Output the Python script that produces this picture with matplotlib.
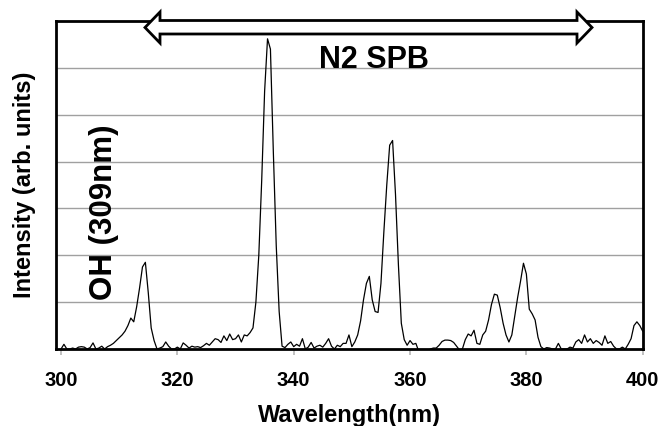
import numpy as np
import matplotlib
matplotlib.use("Agg")
import matplotlib.pyplot as plt
from matplotlib.patches import Polygon

plt.rcParams['font.family'] = ['Liberation Sans', 'DejaVu Sans']

# ---- data -------------------------------------------------------------
wl_start, wl_stop, wl_step = 300.0, 400.0, 0.5
intensity = [
    0.0, 0.1, 0.0, 0.0, 0.02, 0.0, 0.04, 0.05, 0.04, 0.0,          # 300-304.5
    0.03, 0.13, 0.0, 0.02, 0.06, 0.0, 0.05, 0.08, 0.12, 0.18,       # 305-309.5
    0.24, 0.3, 0.38, 0.5, 0.66, 0.58, 0.9, 1.3, 1.75, 1.85,         # 310-314.5
    1.2, 0.45, 0.18, 0.0, 0.02, 0.05, 0.15, 0.06, 0.0, 0.0,         # 315-319.5
    0.04, 0.0, 0.13, 0.08, 0.02, 0.06, 0.04, 0.05, 0.03, 0.07,      # 320-324.5
    0.12, 0.08, 0.15, 0.22, 0.2, 0.14, 0.28, 0.18, 0.32, 0.2,       # 325-329.5
    0.22, 0.3, 0.15, 0.3, 0.28, 0.35, 0.45, 1.0, 2.0, 3.6,          # 330-334.5
    5.5, 6.62, 6.4, 4.2, 2.2, 0.8, 0.06, 0.03, 0.1, 0.15,           # 335-339.5
    0.05, 0.1, 0.06, 0.22, 0.0, 0.04, 0.14, 0.02, 0.06, 0.08,       # 340-344.5
    0.04, 0.12, 0.22, 0.06, 0.0, 0.08, 0.05, 0.12, 0.12, 0.3,       # 345-349.5
    0.05, 0.15, 0.3, 0.6, 1.05, 1.4, 1.55, 1.05, 0.8, 0.78,         # 350-354.5
    1.4, 2.5, 3.5, 4.35, 4.45, 3.3, 1.8, 0.55, 0.2, 0.08,           # 355-359.5
    0.18, 0.1, 0.12, -0.05, -0.05, -0.05, -0.05, 0.0, 0.02, 0.02,   # 360-364.5
    0.08, 0.16, 0.19, 0.19, 0.18, 0.14, 0.06, -0.02, 0.0, 0.2,      # 365-369.5
    0.32, 0.28, 0.4, 0.12, 0.1, 0.3, 0.38, 0.62, 0.95, 1.17,        # 370-374.5
    1.15, 0.88, 0.55, 0.3, 0.15, 0.3, 0.7, 1.1, 1.45, 1.83,         # 375-379.5
    1.6, 0.85, 0.75, 0.62, 0.25, 0.05, 0.0, 0.03, 0.02, 0.0,        # 380-384.5
    0.0, 0.12, 0.0, 0.0, 0.0, 0.04, 0.02, 0.15, 0.2, 0.12,          # 385-389.5
    0.3, 0.15, 0.22, 0.12, 0.18, 0.14, 0.08, 0.28, 0.12, 0.16,      # 390-394.5
    0.06, 0.0, 0.0, 0.04, 0.0, 0.1, 0.22, 0.5, 0.58, 0.5,           # 395-399.5
    0.38,                                                           # 400
]
wavelength = wl_start + wl_step * np.arange(len(intensity))

x_ticks = [300, 320, 340, 360, 380, 400]
x_ticklabels = ["300", "320", "340", "360", "380", "400"]
y_grid = [1, 2, 3, 4, 5, 6]

# ---- figure -----------------------------------------------------------
W, H = 662, 426
fig = plt.figure(figsize=(W / 100, H / 100), dpi=100)

def fx(px):
    return px / W

def fy(py):
    return 1 - py / H

ax_left, ax_right, ax_top, ax_bot = 55.5, 643, 21, 349
ax = fig.add_axes([fx(ax_left), fy(ax_bot), fx(ax_right - ax_left), (ax_bot - ax_top) / H])

ax.plot(wavelength, intensity, color='black', lw=0.9, zorder=3)

ax.set_xlim(299.05, 400.05)
ax.set_ylim(0, 7)
ax.set_yticks(y_grid)
ax.yaxis.grid(True, color='#a0a0a0', lw=1.0)
ax.set_axisbelow(True)
ax.tick_params(axis='y', left=False, labelleft=False)
ax.set_xticks(x_ticks)
ax.set_xticklabels(x_ticklabels, fontsize=14.5, fontweight='bold')
ax.tick_params(axis='x', direction='out', length=4, width=1.1, color='#b0b0b0', pad=12)

for s in ax.spines.values():
    s.set_linewidth(2.0)
    s.set_color('black')

ax.set_xlabel("Wavelength(nm)", fontsize=17, fontweight='bold', labelpad=10)

fig.text(fx(24.5), fy(185), "Intensity (arb. units)", rotation=90, ha='center', va='center',
         fontsize=17, fontweight='bold')
fig.text(fx(104), fy(212), "OH (309nm)", rotation=90, ha='center', va='center',
         fontsize=22.5, fontweight='bold')
fig.text(fx(374), fy(60), "N2 SPB", ha='center', va='center', fontsize=22, fontweight='bold')

# double-headed hollow arrow at the top
arrow_px = [(145, 27.5), (160, 12), (160, 20.5), (577, 20.5), (577, 12), (592, 27.5),
            (577, 43), (577, 34), (160, 34), (160, 43)]
arrow = Polygon([(fx(a), fy(b)) for a, b in arrow_px], closed=True, transform=fig.transFigure,
                facecolor='white', edgecolor='black', lw=2.0, joinstyle='miter', zorder=10)
fig.patches.append(arrow)

fig.savefig("out.png", dpi=100)
